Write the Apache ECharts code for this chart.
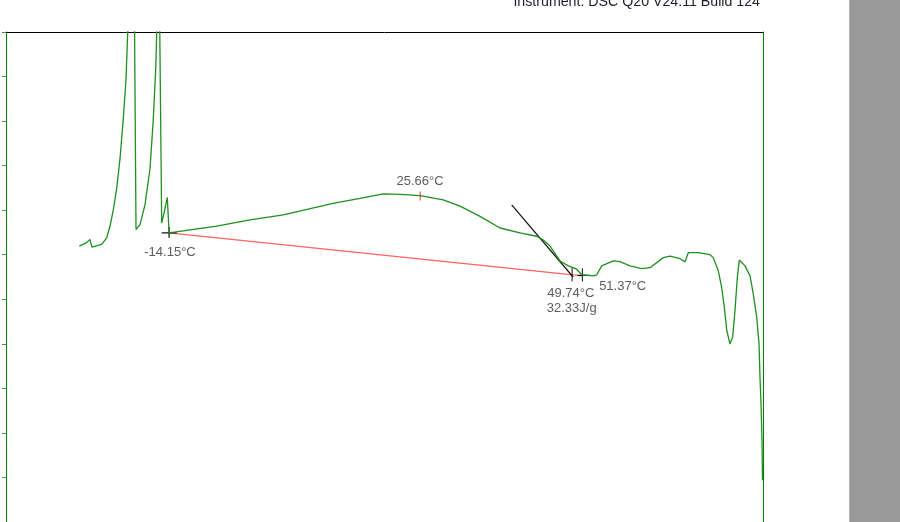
<!DOCTYPE html>
<html>
<head>
<meta charset="utf-8">
<script src="https://cdn.jsdelivr.net/npm/echarts@6/dist/echarts.min.js"></script>
<style>html,body{margin:0;padding:0;background:#fff;}#c{width:900px;height:522px;}</style>
</head>
<body>
<div id="c"></div>
<script>
// Temperature (°C) and heat flow (arbitrary W/g units)
const tempC = [-28.38,-27.32,-26.68,-26.37,-24.83,-24.04,-23.51,-22.99,-22.45,-21.93,-21.41,-20.98,-20.71,-19.71,-19.39,-18.76,-17.97,-17.17,-16.65,-16.27,-16.11,-15.75,-15.32,-14.95,-14.43,-14.15,-6.60,-1.32,3.96,11.84,16.12,19.81,22.46,25.63,29.32,31.97,35.14,38.31,41.48,44.13,45.13,46.24,47.82,49.14,50.47,51.26,53.10,53.64,54.43,56.27,57.33,58.92,60.77,62.09,64.20,65.26,66.84,67.64,68.16,69.74,71.60,72.12,72.91,73.45,73.87,74.25,74.77,75.20,75.56,75.93,76.24,77.15,77.94,78.46,79.00,79.37,79.52,79.68,79.84,79.92];
const heatFlow = [-0.761,-0.747,-0.732,-0.766,-0.754,-0.724,-0.671,-0.599,-0.502,-0.369,-0.191,-0.013,0.196,0.56,-0.687,-0.665,-0.576,-0.413,-0.191,0.031,0.196,0.56,-0.658,-0.613,-0.543,-0.702,-0.672,-0.644,-0.621,-0.569,-0.547,-0.527,-0.529,-0.535,-0.554,-0.582,-0.628,-0.680,-0.702,-0.717,-0.733,-0.761,-0.828,-0.850,-0.865,-0.890,-0.895,-0.890,-0.850,-0.828,-0.831,-0.850,-0.862,-0.858,-0.813,-0.806,-0.818,-0.832,-0.791,-0.791,-0.800,-0.813,-0.872,-0.947,-1.035,-1.139,-1.201,-1.169,-1.050,-0.902,-0.824,-0.850,-0.895,-0.976,-1.080,-1.199,-1.347,-1.465,-1.628,-1.813];

// Integration baseline (red) and onset tangent (black)
const baselinePts = [[-14.15,-0.702],[51.37,-0.895]];
const tangentPts = [[40.16,-0.576],[49.9,-0.900]];
// Cursor marks
const onsetCrossH = [[-15.32,-0.702],[-12.94,-0.702]];
const onsetCrossV = [[-14.15,-0.675],[-14.15,-0.724]];
const cross1V = [[49.74,-0.858],[49.74,-0.920]];
const cross2V = [[51.37,-0.861],[51.37,-0.920]];
const cross2H = [[50.6,-0.893],[52.6,-0.893]];
const peakTick = [[25.66,-0.516],[25.66,-0.556]];

// Annotation labels: [temperature, heat flow, text]
const annotations = [
  [-14.0,-0.791,'-14.15°C'],
  [25.63,-0.470,'25.66°C'],
  [49.53,-0.973,'49.74°C'],
  [49.67,-1.043,'32.33J/g'],
  [57.76,-0.942,'51.37°C']
];
const headerText = 'Instrument: DSC Q20 V24.11 Build 124';

const chart = echarts.init(document.getElementById('c'), null, {renderer:'canvas'});
const curve = tempC.map((t,i)=>[t,heatFlow[i]]);
function seg(data,color,w){
  return {type:'line',data:data,symbol:'none',silent:true,lineStyle:{color:color,width:w||1},z:4,animation:false};
}
chart.setOption({
  animation:false,
  grid:{left:6,top:32,width:757,height:495,show:false},
  xAxis:[
    {type:'value',min:-40,max:80,position:'bottom',axisLine:{show:true,onZero:false,lineStyle:{color:'#008000'}},axisTick:{show:false},axisLabel:{show:false},splitLine:{show:false}},
    {type:'value',min:-40,max:80,position:'top',axisLine:{show:true,onZero:false,lineStyle:{color:'#000'}},axisTick:{show:false},axisLabel:{show:false},splitLine:{show:false}}
  ],
  yAxis:[
    {type:'value',min:-2,max:0.2,interval:0.2,position:'left',axisLine:{show:true,onZero:false,lineStyle:{color:'#008000'}},axisTick:{show:true,inside:false,length:4,lineStyle:{color:'#3a9a3a'}},axisLabel:{show:false},splitLine:{show:false}},
    {type:'value',min:-2,max:0.2,position:'right',axisLine:{show:true,onZero:false,lineStyle:{color:'#008000'}},axisTick:{show:false},axisLabel:{show:false},splitLine:{show:false}}
  ],
  graphic:[
    {type:'rect',shape:{x:849,y:0,width:51,height:522},style:{fill:'#999999'},silent:true},
    {type:'rect',shape:{x:849,y:0,width:1,height:522},style:{fill:'#b4b4b4'},silent:true},
    {type:'text',style:{x:760,y:2,text:headerText,textAlign:'right',textVerticalAlign:'middle',font:'14.2px "Liberation Sans", Arial, sans-serif',fill:'#1e1e28'},silent:true}
  ],
  series:[
    seg(baselinePts,'#ff6060',1.2),
    {type:'line',data:curve,symbol:'none',smooth:false,silent:true,clip:true,lineStyle:{color:'#1f8f1f',width:1.3},z:5,animation:false},
    seg(tangentPts,'#111',1.2),
    seg(onsetCrossH,'#111',1.2),
    seg(onsetCrossV,'#111',1.2),
    seg(cross1V,'#111',1),
    seg(cross2V,'#111',1),
    seg(cross2H,'#111',1.2),
    seg(peakTick,'#ff5050',1.2),
    {type:'scatter',data:annotations.map(a=>({value:[a[0],a[1]],name:a[2]})),symbolSize:0,silent:true,z:6,
     label:{show:true,position:'inside',formatter:p=>p.name,color:'#333',fontSize:13,fontFamily:'"Liberation Sans", Arial, sans-serif'}}
  ]
});
</script>
</body>
</html>
